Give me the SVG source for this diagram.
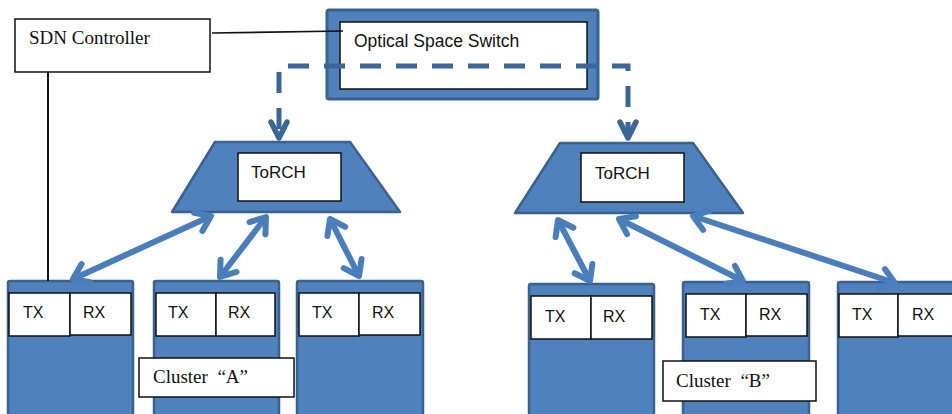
<svg xmlns="http://www.w3.org/2000/svg" width="952" height="414" viewBox="0 0 952 414">
  <style>
    .blue { fill: #4f81bd; stroke: #3a6190; stroke-width: 2.5; stroke-linejoin: round; }
    .white { fill: #ffffff; stroke: #111111; stroke-width: 1.5; }
    .serif { font-family: "Liberation Serif", "Times New Roman", serif; font-size: 19px; fill: #111111; }
    .sans { font-family: "Liberation Sans", Arial, sans-serif; fill: #111111; }
    .wire { fill: none; stroke: #111111; }
    .link { fill: none; stroke: #4a7ebb; stroke-width: 6; marker-start: url(#chev); marker-end: url(#chev); }
    .optical { fill: none; stroke: #3b6697; stroke-width: 5; stroke-dasharray: 21 15; stroke-dashoffset: 5; }
  </style>
  <defs>
    <marker id="chev" viewBox="-20 -14 26 28" refX="0" refY="0" markerWidth="26" markerHeight="28" markerUnits="userSpaceOnUse" orient="auto-start-reverse" overflow="visible">
      <path d="M-14,-10 L0,0 L-14,10" fill="none" stroke="#4a7ebb" stroke-width="6" stroke-linecap="round" stroke-linejoin="round"/>
    </marker>
    <marker id="dchev" viewBox="-22 -14 26 28" refX="0" refY="0" markerWidth="26" markerHeight="28" markerUnits="userSpaceOnUse" orient="auto-start-reverse" overflow="visible">
      <path d="M-16,-8 L0,0 L-16,8" fill="none" stroke="#3b6697" stroke-width="5.5" stroke-linecap="round" stroke-linejoin="round"/>
    </marker>
  </defs>

  <!-- controller -->
  <g id="sdn-controller">
    <rect class="white" x="15" y="19" width="195" height="53"/>
    <text class="serif" x="29" y="44">SDN Controller</text>
  </g>

  <!-- optical space switch -->
  <g id="optical-switch">
    <rect x="327" y="10" width="271" height="89" rx="2" fill="#4f81bd" stroke="#3a6190" stroke-width="3"/>
    <rect class="white" x="340" y="22" width="247" height="67"/>
    <text class="sans" x="354" y="47" font-size="17.5">Optical Space Switch</text>
  </g>

  <!-- top-of-rack switches -->
  <g id="torch-a">
    <polygon class="blue" points="215,142 350,142 400,212 172,212"/>
    <rect class="white" x="238" y="153" width="103" height="48"/>
    <text class="sans" x="251" y="178" font-size="17">ToRCH</text>
  </g>
  <g id="torch-b">
    <polygon class="blue" points="560,143 693,143 743,213 515,213"/>
    <rect class="white" x="581" y="153" width="103" height="49"/>
    <text class="sans" x="595" y="179" font-size="17">ToRCH</text>
  </g>

  <!-- cluster A racks -->
  <g id="rack-a1">
    <rect class="blue" x="8" y="281" width="125" height="140" rx="2"/>
    <rect class="white" x="9" y="293" width="61" height="43"/>
    <rect class="white" x="70" y="293" width="61" height="42"/>
    <text class="sans" x="23" y="318" font-size="16">TX</text>
    <text class="sans" x="83" y="318" font-size="16">RX</text>
  </g>
  <g id="rack-a2">
    <rect class="blue" x="154" y="281" width="125" height="140" rx="2"/>
    <rect class="white" x="156" y="293" width="60" height="43"/>
    <rect class="white" x="216" y="293" width="59" height="43"/>
    <text class="sans" x="168" y="318" font-size="16">TX</text>
    <text class="sans" x="228" y="318" font-size="16">RX</text>
  </g>
  <g id="rack-a3">
    <rect class="blue" x="297" y="281" width="126" height="140" rx="2"/>
    <rect class="white" x="299" y="293" width="60" height="43"/>
    <rect class="white" x="359" y="293" width="61" height="42"/>
    <text class="sans" x="312" y="318" font-size="16">TX</text>
    <text class="sans" x="372" y="318" font-size="16">RX</text>
  </g>
  <g id="label-a">
    <rect class="white" x="139" y="358" width="155" height="39"/>
    <text class="serif" x="153" y="383">Cluster&#160;&#160;“A”</text>
  </g>

  <!-- cluster B racks -->
  <g id="rack-b1">
    <rect class="blue" x="529" y="284" width="125" height="140" rx="2"/>
    <rect class="white" x="531" y="296" width="60" height="43"/>
    <rect class="white" x="591" y="296" width="61" height="43"/>
    <text class="sans" x="545" y="322" font-size="16">TX</text>
    <text class="sans" x="603" y="322" font-size="16">RX</text>
  </g>
  <g id="rack-b2">
    <rect class="blue" x="683" y="282" width="126" height="140" rx="2"/>
    <rect class="white" x="686" y="294" width="60" height="43"/>
    <rect class="white" x="746" y="294" width="61" height="42"/>
    <text class="sans" x="700" y="320" font-size="16">TX</text>
    <text class="sans" x="759" y="320" font-size="16">RX</text>
  </g>
  <g id="rack-b3">
    <rect class="blue" x="838" y="282" width="130" height="140" rx="2"/>
    <rect class="white" x="839" y="294" width="59" height="43"/>
    <rect class="white" x="898" y="294" width="70" height="42"/>
    <text class="sans" x="852" y="320" font-size="16">TX</text>
    <text class="sans" x="912" y="320" font-size="16">RX</text>
  </g>
  <g id="label-b">
    <rect class="white" x="663" y="361" width="153" height="40"/>
    <text class="serif" x="676" y="387">Cluster&#160;&#160;“B”</text>
  </g>

  <!-- connectors -->
  <g id="connectors">
    <path class="wire" stroke-width="1.6" d="M212,33 L343,31"/>
    <path class="wire" stroke-width="2" d="M48,72 V281"/>
    <path class="optical" d="M628,138 V66 H279 V138" marker-start="url(#dchev)" marker-end="url(#dchev)"/>
    <line class="link" x1="73" y1="279" x2="211" y2="216"/>
    <line class="link" x1="220" y1="277" x2="266" y2="217"/>
    <line class="link" x1="330" y1="219" x2="359" y2="276"/>
    <line class="link" x1="558" y1="220" x2="590" y2="281"/>
    <line class="link" x1="619" y1="219" x2="743" y2="281"/>
    <line class="link" x1="693" y1="216" x2="895" y2="283"/>
  </g>
</svg>
